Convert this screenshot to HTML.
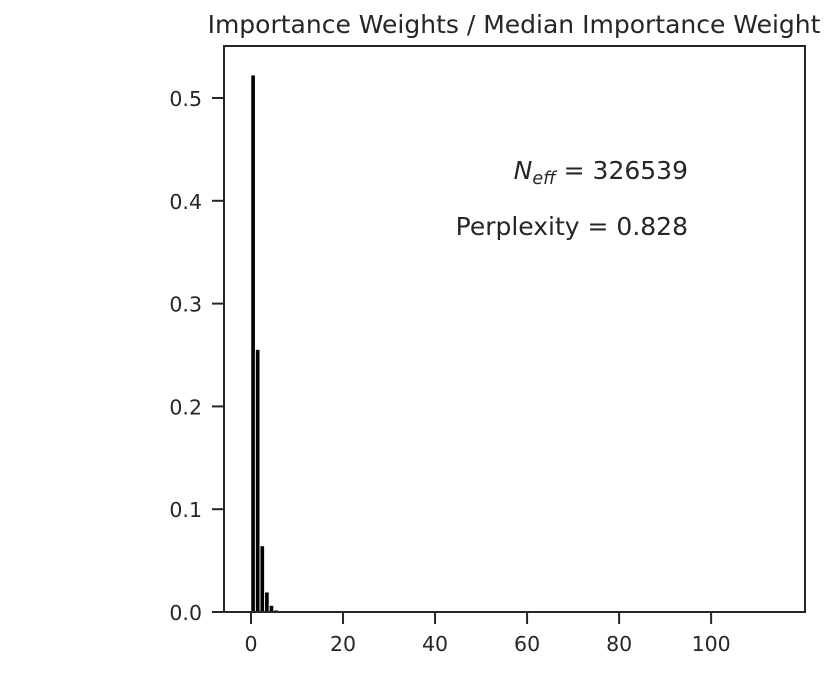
<!DOCTYPE html>
<html><head><meta charset="utf-8"><style>
body{margin:0;background:#fff;width:837px;height:670px;overflow:hidden}
text{font-family:"DejaVu Sans","Liberation Sans",sans-serif;fill:#262626}
</style></head><body>
<svg id="chart" width="837" height="670">
<text x="514" y="33" font-size="25" text-anchor="middle">Importance Weights / Median Importance Weight</text>
<g id="bars"></g>
<g id="axes"></g>
<text x="688" y="179" font-size="25" text-anchor="end"><tspan font-style="italic">N</tspan><tspan font-size="17.5" font-style="italic" dy="5">eff</tspan><tspan dy="-5"> = 326539</tspan></text>
<text x="688" y="235" font-size="25" text-anchor="end">Perplexity = 0.828</text>
</svg>
<script>
const binStarts=[0,1,2,3,4,5];
const binValues=[0.522,0.255,0.064,0.019,0.006,0.0015];
const xTicks=[0,20,40,60,80,100];
const yTicks=[0.0,0.1,0.2,0.3,0.4,0.5];
const L=224,R=805,T=46,B=612;
const xMin=-5.87,xMax=120.4,yMin=0,yMax=0.5506;
const sx=v=>L+(v-xMin)/(xMax-xMin)*(R-L);
const sy=v=>B-(v-yMin)/(yMax-yMin)*(B-T);
const NS="http://www.w3.org/2000/svg";
const bars=document.getElementById('bars'),axes=document.getElementById('axes');
function mk(tag,a,p){const e=document.createElementNS(NS,tag);for(const k in a)e.setAttribute(k,a[k]);p.appendChild(e);return e;}
binStarts.forEach((s,i)=>{
const r=mk('rect',{x:sx(s+0.05),y:sy(binValues[i]),width:sx(s+0.85)-sx(s+0.05),height:sy(0)-sy(binValues[i]),fill:'#000'},bars);


});
const f=mk('rect',{x:L,y:T,width:R-L,height:B-T,fill:'none',stroke:'#262626','stroke-width':2},axes);


xTicks.forEach(v=>{
const x=sx(v);
mk('line',{x1:x,x2:x,y1:B,y2:B+12,stroke:'#262626','stroke-width':2},axes);
const t=mk('text',{x:x,y:B+39,'font-size':20.5,'text-anchor':'middle'},axes);t.textContent=v;


});
yTicks.forEach(v=>{
const y=sy(v);
mk('line',{x1:L-12,x2:L,y1:y,y2:y,stroke:'#262626','stroke-width':2},axes);
const t=mk('text',{x:L-22,y:y+8,'font-size':20.5,'text-anchor':'end'},axes);t.textContent=v.toFixed(1);


});
</script>
</body></html>
